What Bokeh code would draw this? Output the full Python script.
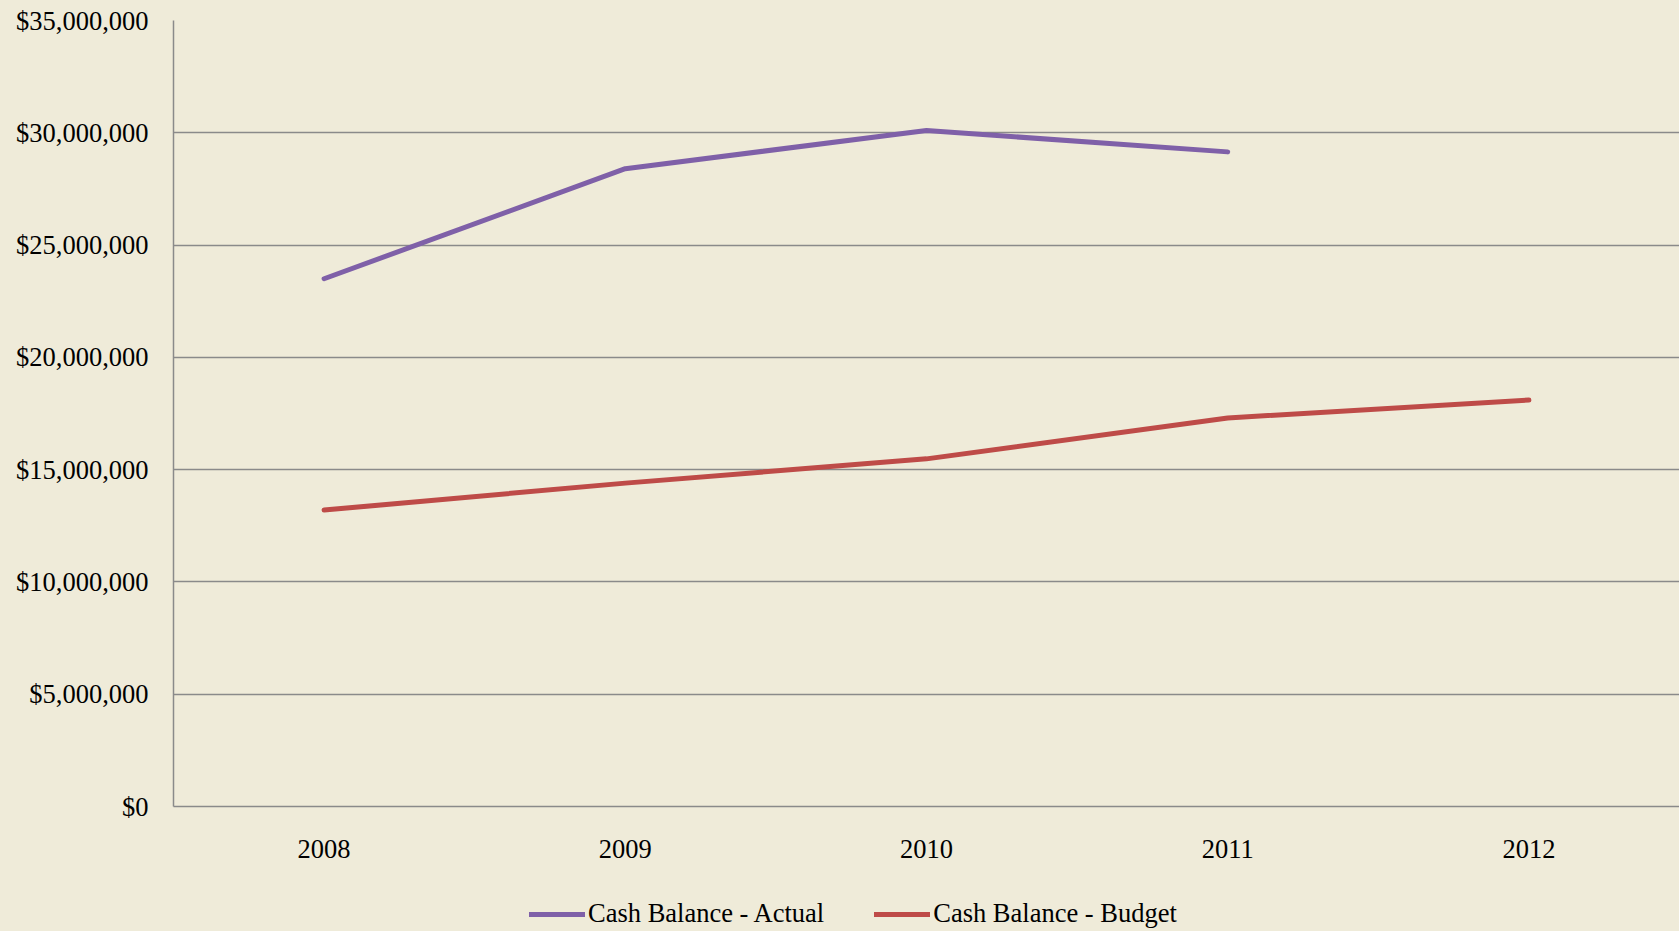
from bokeh.plotting import figure
from bokeh.layouts import column
from bokeh.models import FactorRange, Range1d, Legend, LegendItem, NumeralTickFormatter, SingleIntervalTicker
from bokeh.embed import file_html
from bokeh.resources import INLINE

years = ["2008", "2009", "2010", "2011", "2012"]
actual_years = ["2008", "2009", "2010", "2011"]
actual = [23_500_000, 28_400_000, 30_100_000, 29_150_000]
budget = [13_200_000, 14_400_000, 15_480_000, 17_300_000, 18_100_000]
series_names = ["Cash Balance - Actual", "Cash Balance - Budget"]

BG = "#EFEBD9"
FONT = "Liberation Serif"
C_ACT = "#7F60A8"
C_BUD = "#BE4B48"

p = figure(width=1679, height=870, x_range=FactorRange(*years, range_padding=0),
           y_range=Range1d(0, 35_000_000), output_backend="svg", toolbar_location=None,
           background_fill_color=BG, border_fill_color=BG,
           min_border_left=173, min_border_right=0, min_border_top=20, min_border_bottom=64)
p.outline_line_color = None

p.line(actual_years, actual, line_color=C_ACT, line_width=5, line_cap="round", line_join="round")
p.line(years, budget, line_color=C_BUD, line_width=5, line_cap="round", line_join="round")

p.yaxis.ticker = SingleIntervalTicker(interval=5_000_000)
p.yaxis.formatter = NumeralTickFormatter(format="$0,0")
for ax in (p.xaxis[0], p.yaxis[0]):
    ax.axis_line_color = "#8A8A8A"
    ax.axis_line_width = 1.5
    ax.major_tick_line_color = None
    ax.minor_tick_line_color = None
    ax.major_label_text_font = FONT
    ax.major_label_text_font_size = "26.5px"
    ax.major_label_text_color = "#000000"
p.yaxis.major_label_standoff = 19
p.xaxis.major_label_standoff = 27

p.xgrid.grid_line_color = None
p.ygrid.grid_line_color = "#8A8A8A"
p.ygrid.grid_line_width = 1.5

# legend strip below the chart (its frame is aligned with the chart's frame)
p2 = figure(width=1679, height=61, x_range=Range1d(0, 1), y_range=Range1d(0, 1),
            output_backend="svg", toolbar_location=None,
            background_fill_color=BG, border_fill_color=BG,
            min_border=0, x_axis_type=None, y_axis_type=None)
p2.outline_line_color = None
p2.xgrid.visible = False
p2.ygrid.visible = False
nan = float("nan")
g1 = p2.line([nan, nan], [nan, nan], line_color=C_ACT, line_width=5, line_cap="round")
g2 = p2.line([nan, nan], [nan, nan], line_color=C_BUD, line_width=5, line_cap="round")
legend = Legend(items=[LegendItem(label=series_names[0], renderers=[g1]),
                       LegendItem(label=series_names[1], renderers=[g2])],
                orientation="horizontal", location=(356, 2),
                background_fill_alpha=0, border_line_color=None,
                label_text_font=FONT, label_text_font_size="26.5px", label_text_color="#000000",
                glyph_width=56, glyph_height=30, label_height=30,
                label_standoff=3, spacing=50, padding=0, margin=0)
p2.add_layout(legend, "center")

layout = column(p, p2, spacing=0, background=BG)
open("out.html", "w").write(file_html(layout, INLINE))
